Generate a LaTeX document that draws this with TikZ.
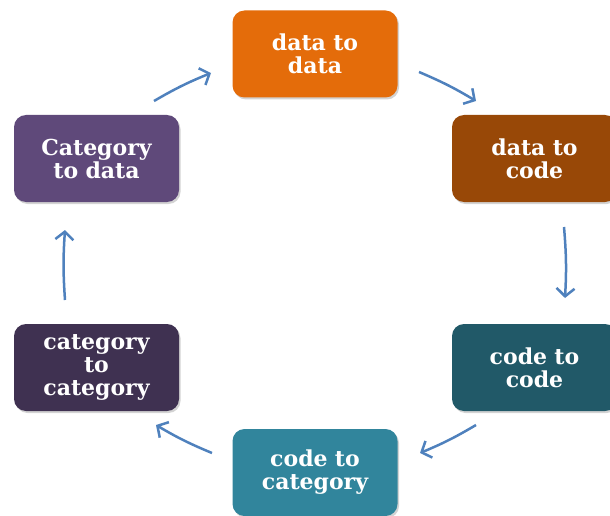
\documentclass[tikz,border=0pt]{standalone}
\usepackage{fontspec}
\setmainfont{DejaVu Serif}
\usetikzlibrary{arrows.meta,shadows}

\definecolor{ddcol}{HTML}{E46C0A}
\definecolor{dccol}{HTML}{984807}
\definecolor{cccol}{HTML}{215968}
\definecolor{ckcol}{HTML}{31859C}
\definecolor{kkcol}{HTML}{3F3151}
\definecolor{kdcol}{HTML}{5F497A}
\definecolor{flowcol}{HTML}{4F81BD}

\tikzset{
  stage/.style={rectangle,rounded corners=12pt,minimum width=165pt,minimum height=87pt,
    text width=150pt,align=center,text=white,font=\bfseries\fontsize{22}{23}\selectfont,
    drop shadow={opacity=0.35,shadow xshift=1.5pt,shadow yshift=-2pt}},
  flow/.style={draw=flowcol,line width=2.5pt,-{Straight Barb[length=8pt,width=18pt]}}
}

\begin{document}
\begin{tikzpicture}[x=1pt,y=-1pt]
      \clip (0,0) rectangle (610,516);
      \useasboundingbox (0,0) rectangle (610,516);
      \node [stage,fill=ddcol] (dd) at (315,54) {data to\\data};
      \node [stage,fill=dccol] (dc) at (534.5,158.5) {data to\\code};
      \node [stage,fill=cccol] (cc) at (534.5,367.5) {code to\\code};
      \node [stage,fill=ckcol] (ck) at (315,472.5) {code to\\category};
      \node [stage,fill=kkcol] (kk) at (96.5,367.5) {category\\to\\category};
      \node [stage,fill=kdcol] (kd) at (96.5,158.5) {Category\\to data};

      \coordinate (a1) at (154,101); \coordinate (b1) at (211,73);
      \coordinate (a2) at (419,72);  \coordinate (b2) at (476,101);
      \coordinate (a3) at (564,227); \coordinate (b3) at (565,298);
      \coordinate (a4) at (476,425); \coordinate (b4) at (420,453);
      \coordinate (a5) at (212,453); \coordinate (b5) at (156,425);
      \coordinate (a6) at (65,300);  \coordinate (b6) at (65,230);

      \draw[flow] (a1) to[bend left=4] (b1);
      \draw[flow] (a2) to[bend left=4] (b2);
      \draw[flow] (a3) to[bend left=4] (b3);
      \draw[flow] (a4) to[bend left=4] (b4);
      \draw[flow] (a5) to[bend left=4] (b5);
      \draw[flow] (a6) to[bend left=4] (b6);
    \end{tikzpicture}
\end{document}
